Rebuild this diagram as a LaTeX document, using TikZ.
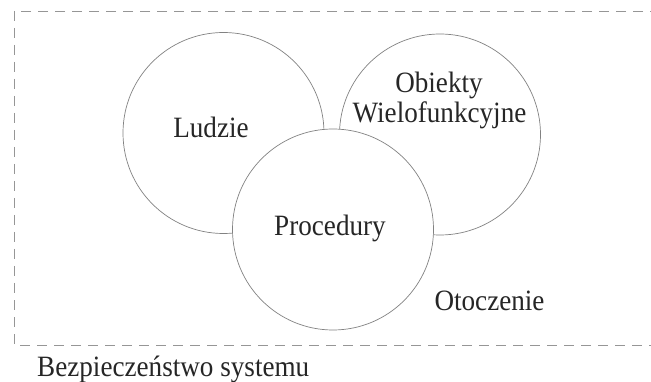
\documentclass[tikz,border=0pt]{standalone}
\usepackage{fontspec}
\setmainfont[FakeStretch=0.92]{Liberation Serif}
\definecolor{lineg}{RGB}{130,130,130}
\definecolor{dashg}{RGB}{150,150,150}
\begin{document}
\begin{tikzpicture}[x=1pt,y=-1pt,
  ring/.style={circle, draw=lineg, line width=0.7pt, minimum size=201pt, inner sep=0pt},
  lbl/.style={anchor=base, inner sep=0pt, font=\fontsize{29.5}{32}\selectfont, text=black!85},
  frame/.style={draw=dashg, line width=0.9pt, dash pattern=on 10pt off 7pt}]
\useasboundingbox (0,0) rectangle (651,382);
\fill[white] (0,0) rectangle (651,382);
% frame
\coordinate (ftr) at (660,11);
\coordinate (ftl) at (14,11);
\coordinate (fbl) at (14,345);
\coordinate (fbr) at (660,345);
\draw[frame] (ftr) -- (ftl) -- (fbl) -- (fbr);
% circles
\node[ring] (ludzie) at (223.5,133) {};
\node[ring] (obiekty) at (440,134.5) {};
\node[ring, fill=white] (procedury) at (333,229.5) {};
% labels
\node[lbl] (tludzie) at (211,138) {Ludzie};
\node[lbl] (tobiekty) at (439,93) {Obiekty};
\node[lbl] (twielo) at (439.5,123) {Wielofunkcyjne};
\node[lbl] (tproc) at (330,236) {Procedury};
\node[lbl] (totocz) at (489.5,310) {Otoczenie};
\node[lbl, anchor=base west] (tbezp) at (37,376.5) {Bezpieczeństwo systemu};
\end{tikzpicture}
\end{document}
